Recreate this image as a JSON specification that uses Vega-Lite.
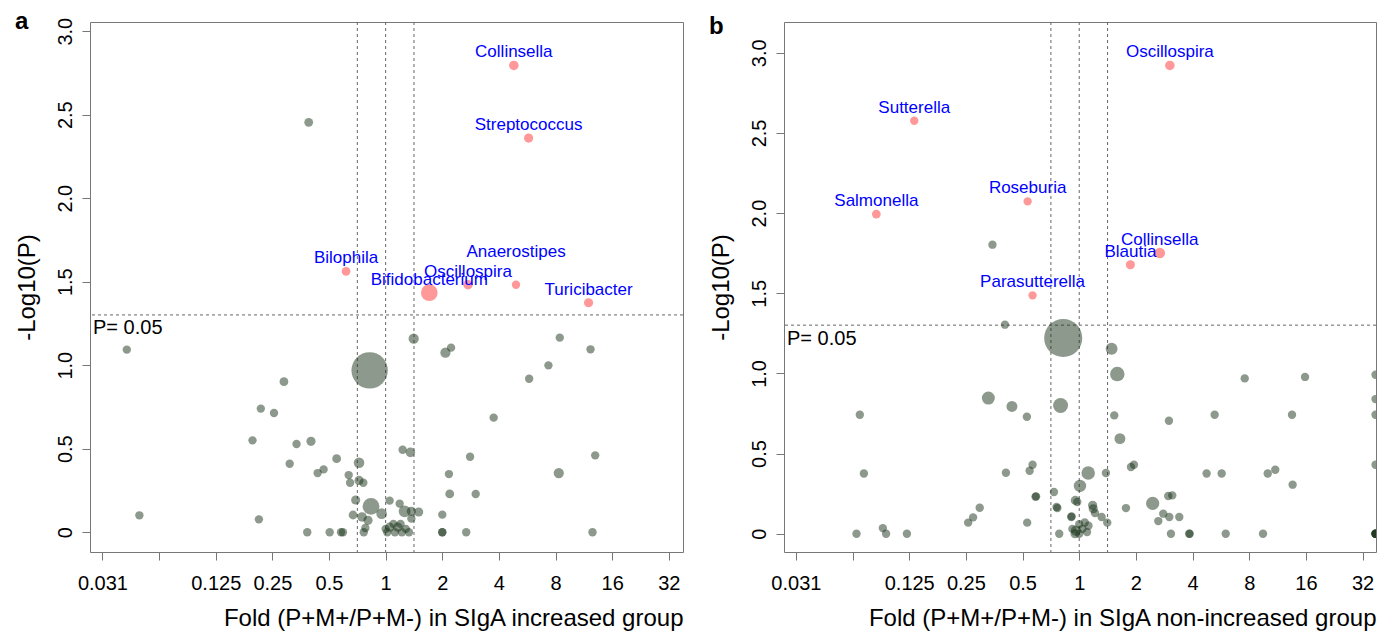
{
  "$schema": "https://vega.github.io/schema/vega-lite/v6.json",
  "background": "white",
  "padding": {"left": 14, "top": 9, "right": 2, "bottom": 0},
  "spacing": 24,
  "config": {
    "font": "Liberation Sans",
    "view": {"stroke": "#777", "strokeWidth": 1},
    "axis": {"grid": false, "domain": false, "tickColor": "#777", "tickSize": 8, "labelColor": "#000", "titleColor": "#000", "labelFontSize": 20, "titleFontSize": 24, "titleFontWeight": "normal", "labelOverlap": false, "labelFlush": false, "labelBound": false, "labelFont": "Liberation Sans", "titleFont": "Liberation Sans"},
    "axisX": {"labelPadding": 13, "titleAnchor": "end", "titlePadding": 13},
    "axisY": {"labelAngle": -90, "labelAlign": "center", "labelBaseline": "bottom", "labelPadding": 7, "titlePadding": 16},
    "title": {"fontSize": 24, "fontWeight": "bold", "anchor": "start", "frame": "bounds", "color": "#000", "offset": -17}
  },
  "datasets": {
    "cutx": [{"fold": 0.7071}, {"fold": 1}, {"fold": 1.4142}],
    "cuty": [{"logp": 1.301}],
    "note": [{"panel": "a", "fold": 0.02683, "logp": 1.301, "text": "P= 0.05"}, {"panel": "b", "fold": 0.02702, "logp": 1.301, "text": "P= 0.05"}],
    "pts": [
      {"panel": "a", "fold": 4.8, "logp": 2.795, "abundance": 1.3, "sig": 1, "genus": "Collinsella"},
      {"panel": "a", "fold": 5.75, "logp": 2.36, "abundance": 1.2, "sig": 1, "genus": "Streptococcus"},
      {"panel": "a", "fold": 0.616, "logp": 1.562, "abundance": 1.1, "sig": 1, "genus": "Bilophila"},
      {"panel": "a", "fold": 1.706, "logp": 1.434, "abundance": 4.0, "sig": 1, "genus": "Bifidobacterium"},
      {"panel": "a", "fold": 2.74, "logp": 1.482, "abundance": 1.3, "sig": 1, "genus": "Oscillospira"},
      {"panel": "a", "fold": 4.93, "logp": 1.482, "abundance": 1.0, "sig": 1, "genus": "Anaerostipes"},
      {"panel": "a", "fold": 11.98, "logp": 1.374, "abundance": 1.2, "sig": 1, "genus": "Turicibacter"},
      {"panel": "a", "fold": 0.39, "logp": 2.454, "abundance": 1.1, "sig": 0, "genus": ""},
      {"panel": "a", "fold": 0.0421, "logp": 1.093, "abundance": 1.0, "sig": 0, "genus": ""},
      {"panel": "a", "fold": 0.0491, "logp": 0.101, "abundance": 1.0, "sig": 0, "genus": ""},
      {"panel": "a", "fold": 0.822, "logp": 0.969, "abundance": 18.9, "sig": 0, "genus": ""},
      {"panel": "a", "fold": 0.288, "logp": 0.901, "abundance": 1.1, "sig": 0, "genus": ""},
      {"panel": "a", "fold": 0.217, "logp": 0.74, "abundance": 1.0, "sig": 0, "genus": ""},
      {"panel": "a", "fold": 0.255, "logp": 0.714, "abundance": 1.0, "sig": 0, "genus": ""},
      {"panel": "a", "fold": 0.196, "logp": 0.55, "abundance": 1.0, "sig": 0, "genus": ""},
      {"panel": "a", "fold": 0.336, "logp": 0.528, "abundance": 1.0, "sig": 0, "genus": ""},
      {"panel": "a", "fold": 0.401, "logp": 0.544, "abundance": 1.2, "sig": 0, "genus": ""},
      {"panel": "a", "fold": 0.309, "logp": 0.41, "abundance": 1.0, "sig": 0, "genus": ""},
      {"panel": "a", "fold": 0.435, "logp": 0.354, "abundance": 1.0, "sig": 0, "genus": ""},
      {"panel": "a", "fold": 0.468, "logp": 0.376, "abundance": 1.0, "sig": 0, "genus": ""},
      {"panel": "a", "fold": 0.549, "logp": 0.44, "abundance": 1.1, "sig": 0, "genus": ""},
      {"panel": "a", "fold": 0.722, "logp": 0.416, "abundance": 1.6, "sig": 0, "genus": ""},
      {"panel": "a", "fold": 0.636, "logp": 0.342, "abundance": 1.0, "sig": 0, "genus": ""},
      {"panel": "a", "fold": 0.647, "logp": 0.296, "abundance": 1.0, "sig": 0, "genus": ""},
      {"panel": "a", "fold": 0.722, "logp": 0.31, "abundance": 1.2, "sig": 0, "genus": ""},
      {"panel": "a", "fold": 0.761, "logp": 0.296, "abundance": 1.0, "sig": 0, "genus": ""},
      {"panel": "a", "fold": 0.693, "logp": 0.193, "abundance": 1.2, "sig": 0, "genus": ""},
      {"panel": "a", "fold": 0.836, "logp": 0.155, "abundance": 4.0, "sig": 0, "genus": ""},
      {"panel": "a", "fold": 0.671, "logp": 0.103, "abundance": 1.1, "sig": 0, "genus": ""},
      {"panel": "a", "fold": 0.749, "logp": 0.091, "abundance": 1.3, "sig": 0, "genus": ""},
      {"panel": "a", "fold": 0.952, "logp": 0.111, "abundance": 1.6, "sig": 0, "genus": ""},
      {"panel": "a", "fold": 0.806, "logp": 0.071, "abundance": 1.2, "sig": 0, "genus": ""},
      {"panel": "a", "fold": 0.78, "logp": 0.025, "abundance": 1.0, "sig": 0, "genus": ""},
      {"panel": "a", "fold": 0.765, "logp": 0.0, "abundance": 1.0, "sig": 0, "genus": ""},
      {"panel": "a", "fold": 0.383, "logp": 0.0, "abundance": 1.0, "sig": 0, "genus": ""},
      {"panel": "a", "fold": 0.504, "logp": 0.0, "abundance": 1.0, "sig": 0, "genus": ""},
      {"panel": "a", "fold": 0.579, "logp": 0.0, "abundance": 1.0, "sig": 0, "genus": ""},
      {"panel": "a", "fold": 0.593, "logp": 0.0, "abundance": 1.0, "sig": 0, "genus": ""},
      {"panel": "a", "fold": 0.212, "logp": 0.077, "abundance": 1.0, "sig": 0, "genus": ""},
      {"panel": "a", "fold": 1.409, "logp": 1.159, "abundance": 1.5, "sig": 0, "genus": ""},
      {"panel": "a", "fold": 2.078, "logp": 1.075, "abundance": 1.5, "sig": 0, "genus": ""},
      {"panel": "a", "fold": 2.227, "logp": 1.105, "abundance": 1.0, "sig": 0, "genus": ""},
      {"panel": "a", "fold": 8.42, "logp": 1.165, "abundance": 1.0, "sig": 0, "genus": ""},
      {"panel": "a", "fold": 12.27, "logp": 1.095, "abundance": 1.0, "sig": 0, "genus": ""},
      {"panel": "a", "fold": 7.33, "logp": 0.999, "abundance": 1.0, "sig": 0, "genus": ""},
      {"panel": "a", "fold": 5.79, "logp": 0.919, "abundance": 1.0, "sig": 0, "genus": ""},
      {"panel": "a", "fold": 3.75, "logp": 0.686, "abundance": 1.0, "sig": 0, "genus": ""},
      {"panel": "a", "fold": 1.231, "logp": 0.494, "abundance": 1.0, "sig": 0, "genus": ""},
      {"panel": "a", "fold": 1.353, "logp": 0.478, "abundance": 1.3, "sig": 0, "genus": ""},
      {"panel": "a", "fold": 2.81, "logp": 0.452, "abundance": 1.0, "sig": 0, "genus": ""},
      {"panel": "a", "fold": 12.99, "logp": 0.46, "abundance": 1.0, "sig": 0, "genus": ""},
      {"panel": "a", "fold": 2.17, "logp": 0.348, "abundance": 1.0, "sig": 0, "genus": ""},
      {"panel": "a", "fold": 8.32, "logp": 0.354, "abundance": 1.5, "sig": 0, "genus": ""},
      {"panel": "a", "fold": 2.19, "logp": 0.229, "abundance": 1.1, "sig": 0, "genus": ""},
      {"panel": "a", "fold": 3.01, "logp": 0.229, "abundance": 1.0, "sig": 0, "genus": ""},
      {"panel": "a", "fold": 2.0, "logp": 0.105, "abundance": 1.0, "sig": 0, "genus": ""},
      {"panel": "a", "fold": 2.0, "logp": 0.0, "abundance": 1.0, "sig": 0, "genus": ""},
      {"panel": "a", "fold": 2.0, "logp": 0.0, "abundance": 1.0, "sig": 0, "genus": ""},
      {"panel": "a", "fold": 2.68, "logp": 0.0, "abundance": 1.0, "sig": 0, "genus": ""},
      {"panel": "a", "fold": 12.57, "logp": 0.0, "abundance": 1.0, "sig": 0, "genus": ""},
      {"panel": "a", "fold": 1.05, "logp": 0.189, "abundance": 1.0, "sig": 0, "genus": ""},
      {"panel": "a", "fold": 1.187, "logp": 0.171, "abundance": 1.0, "sig": 0, "genus": ""},
      {"panel": "a", "fold": 1.262, "logp": 0.125, "abundance": 2.0, "sig": 0, "genus": ""},
      {"panel": "a", "fold": 1.37, "logp": 0.125, "abundance": 1.2, "sig": 0, "genus": ""},
      {"panel": "a", "fold": 1.498, "logp": 0.121, "abundance": 1.2, "sig": 0, "genus": ""},
      {"panel": "a", "fold": 1.37, "logp": 0.081, "abundance": 1.0, "sig": 0, "genus": ""},
      {"panel": "a", "fold": 1.0, "logp": 0.02, "abundance": 1.0, "sig": 0, "genus": ""},
      {"panel": "a", "fold": 1.02, "logp": 0.0, "abundance": 1.0, "sig": 0, "genus": ""},
      {"panel": "a", "fold": 1.05, "logp": 0.03, "abundance": 1.2, "sig": 0, "genus": ""},
      {"panel": "a", "fold": 1.1, "logp": 0.05, "abundance": 1.0, "sig": 0, "genus": ""},
      {"panel": "a", "fold": 1.12, "logp": 0.0, "abundance": 1.0, "sig": 0, "genus": ""},
      {"panel": "a", "fold": 1.16, "logp": 0.03, "abundance": 1.3, "sig": 0, "genus": ""},
      {"panel": "a", "fold": 1.2, "logp": 0.05, "abundance": 1.0, "sig": 0, "genus": ""},
      {"panel": "a", "fold": 1.22, "logp": 0.0, "abundance": 1.0, "sig": 0, "genus": ""},
      {"panel": "a", "fold": 1.28, "logp": 0.02, "abundance": 1.0, "sig": 0, "genus": ""},
      {"panel": "a", "fold": 1.33, "logp": 0.0, "abundance": 1.0, "sig": 0, "genus": ""},

      {"panel": "b", "fold": 3.03, "logp": 2.921, "abundance": 1.3, "sig": 1, "genus": "Oscillospira"},
      {"panel": "b", "fold": 0.1329, "logp": 2.576, "abundance": 1.0, "sig": 1, "genus": "Sutterella"},
      {"panel": "b", "fold": 0.0836, "logp": 1.994, "abundance": 1.1, "sig": 1, "genus": "Salmonella"},
      {"panel": "b", "fold": 0.532, "logp": 2.073, "abundance": 1.0, "sig": 1, "genus": "Roseburia"},
      {"panel": "b", "fold": 2.678, "logp": 1.751, "abundance": 1.6, "sig": 1, "genus": "Collinsella"},
      {"panel": "b", "fold": 1.869, "logp": 1.678, "abundance": 1.2, "sig": 1, "genus": "Blautia"},
      {"panel": "b", "fold": 0.565, "logp": 1.487, "abundance": 1.0, "sig": 1, "genus": "Parasutterella"},
      {"panel": "b", "fold": 0.346, "logp": 1.803, "abundance": 1.0, "sig": 0, "genus": ""},
      {"panel": "b", "fold": 0.403, "logp": 1.304, "abundance": 1.0, "sig": 0, "genus": ""},
      {"panel": "b", "fold": 0.822, "logp": 1.221, "abundance": 20.7, "sig": 0, "genus": ""},
      {"panel": "b", "fold": 0.329, "logp": 0.846, "abundance": 2.4, "sig": 0, "genus": ""},
      {"panel": "b", "fold": 0.439, "logp": 0.794, "abundance": 1.7, "sig": 0, "genus": ""},
      {"panel": "b", "fold": 0.527, "logp": 0.73, "abundance": 1.0, "sig": 0, "genus": ""},
      {"panel": "b", "fold": 0.796, "logp": 0.8, "abundance": 3.2, "sig": 0, "genus": ""},
      {"panel": "b", "fold": 0.0683, "logp": 0.742, "abundance": 1.0, "sig": 0, "genus": ""},
      {"panel": "b", "fold": 0.0718, "logp": 0.376, "abundance": 1.0, "sig": 0, "genus": ""},
      {"panel": "b", "fold": 0.408, "logp": 0.38, "abundance": 1.0, "sig": 0, "genus": ""},
      {"panel": "b", "fold": 0.545, "logp": 0.393, "abundance": 1.0, "sig": 0, "genus": ""},
      {"panel": "b", "fold": 0.565, "logp": 0.43, "abundance": 1.0, "sig": 0, "genus": ""},
      {"panel": "b", "fold": 0.586, "logp": 0.231, "abundance": 1.0, "sig": 0, "genus": ""},
      {"panel": "b", "fold": 0.59, "logp": 0.233, "abundance": 1.0, "sig": 0, "genus": ""},
      {"panel": "b", "fold": 0.734, "logp": 0.26, "abundance": 1.0, "sig": 0, "genus": ""},
      {"panel": "b", "fold": 0.758, "logp": 0.167, "abundance": 1.0, "sig": 0, "genus": ""},
      {"panel": "b", "fold": 0.765, "logp": 0.16, "abundance": 1.0, "sig": 0, "genus": ""},
      {"panel": "b", "fold": 0.296, "logp": 0.162, "abundance": 1.0, "sig": 0, "genus": ""},
      {"panel": "b", "fold": 0.273, "logp": 0.102, "abundance": 1.0, "sig": 0, "genus": ""},
      {"panel": "b", "fold": 0.257, "logp": 0.069, "abundance": 1.0, "sig": 0, "genus": ""},
      {"panel": "b", "fold": 0.529, "logp": 0.069, "abundance": 1.0, "sig": 0, "genus": ""},
      {"panel": "b", "fold": 0.0656, "logp": 0.0, "abundance": 1.0, "sig": 0, "genus": ""},
      {"panel": "b", "fold": 0.0905, "logp": 0.035, "abundance": 1.0, "sig": 0, "genus": ""},
      {"panel": "b", "fold": 0.0942, "logp": 0.0, "abundance": 1.0, "sig": 0, "genus": ""},
      {"panel": "b", "fold": 0.1215, "logp": 0.0, "abundance": 1.0, "sig": 0, "genus": ""},
      {"panel": "b", "fold": 0.783, "logp": 0.0, "abundance": 1.0, "sig": 0, "genus": ""},
      {"panel": "b", "fold": 0.953, "logp": 0.208, "abundance": 1.2, "sig": 0, "genus": ""},
      {"panel": "b", "fold": 0.976, "logp": 0.198, "abundance": 1.0, "sig": 0, "genus": ""},
      {"panel": "b", "fold": 1.009, "logp": 0.298, "abundance": 2.2, "sig": 0, "genus": ""},
      {"panel": "b", "fold": 0.907, "logp": 0.104, "abundance": 1.0, "sig": 0, "genus": ""},
      {"panel": "b", "fold": 1.116, "logp": 0.379, "abundance": 2.6, "sig": 0, "genus": ""},
      {"panel": "b", "fold": 1.386, "logp": 0.379, "abundance": 1.0, "sig": 0, "genus": ""},
      {"panel": "b", "fold": 1.178, "logp": 0.177, "abundance": 1.2, "sig": 0, "genus": ""},
      {"panel": "b", "fold": 1.187, "logp": 0.156, "abundance": 1.2, "sig": 0, "genus": ""},
      {"panel": "b", "fold": 1.212, "logp": 0.129, "abundance": 1.0, "sig": 0, "genus": ""},
      {"panel": "b", "fold": 1.315, "logp": 0.104, "abundance": 1.0, "sig": 0, "genus": ""},
      {"panel": "b", "fold": 1.409, "logp": 0.069, "abundance": 1.0, "sig": 0, "genus": ""},
      {"panel": "b", "fold": 0.911, "logp": 0.108, "abundance": 1.0, "sig": 0, "genus": ""},
      {"panel": "b", "fold": 0.92, "logp": 0.03, "abundance": 1.0, "sig": 0, "genus": ""},
      {"panel": "b", "fold": 0.96, "logp": 0.02, "abundance": 1.5, "sig": 0, "genus": ""},
      {"panel": "b", "fold": 1.0, "logp": 0.06, "abundance": 1.0, "sig": 0, "genus": ""},
      {"panel": "b", "fold": 1.04, "logp": 0.03, "abundance": 1.0, "sig": 0, "genus": ""},
      {"panel": "b", "fold": 1.07, "logp": 0.07, "abundance": 1.0, "sig": 0, "genus": ""},
      {"panel": "b", "fold": 1.1, "logp": 0.01, "abundance": 1.0, "sig": 0, "genus": ""},
      {"panel": "b", "fold": 1.12, "logp": 0.05, "abundance": 1.0, "sig": 0, "genus": ""},
      {"panel": "b", "fold": 1.0, "logp": 0.0, "abundance": 1.0, "sig": 0, "genus": ""},
      {"panel": "b", "fold": 0.95, "logp": 0.0, "abundance": 1.2, "sig": 0, "genus": ""},
      {"panel": "b", "fold": 1.771, "logp": 0.16, "abundance": 1.0, "sig": 0, "genus": ""},
      {"panel": "b", "fold": 1.883, "logp": 0.416, "abundance": 1.0, "sig": 0, "genus": ""},
      {"panel": "b", "fold": 1.953, "logp": 0.43, "abundance": 1.0, "sig": 0, "genus": ""},
      {"panel": "b", "fold": 1.486, "logp": 1.154, "abundance": 2.0, "sig": 0, "genus": ""},
      {"panel": "b", "fold": 1.593, "logp": 0.996, "abundance": 3.0, "sig": 0, "genus": ""},
      {"panel": "b", "fold": 1.535, "logp": 0.738, "abundance": 1.0, "sig": 0, "genus": ""},
      {"panel": "b", "fold": 1.645, "logp": 0.593, "abundance": 1.7, "sig": 0, "genus": ""},
      {"panel": "b", "fold": 2.996, "logp": 0.705, "abundance": 1.0, "sig": 0, "genus": ""},
      {"panel": "b", "fold": 7.57, "logp": 0.969, "abundance": 1.0, "sig": 0, "genus": ""},
      {"panel": "b", "fold": 15.83, "logp": 0.978, "abundance": 1.0, "sig": 0, "genus": ""},
      {"panel": "b", "fold": 5.24, "logp": 0.742, "abundance": 1.0, "sig": 0, "genus": ""},
      {"panel": "b", "fold": 13.5, "logp": 0.742, "abundance": 1.0, "sig": 0, "genus": ""},
      {"panel": "b", "fold": 37.5, "logp": 0.992, "abundance": 1.0, "sig": 0, "genus": ""},
      {"panel": "b", "fold": 37.5, "logp": 0.84, "abundance": 1.0, "sig": 0, "genus": ""},
      {"panel": "b", "fold": 37.5, "logp": 0.742, "abundance": 1.0, "sig": 0, "genus": ""},
      {"panel": "b", "fold": 37.5, "logp": 0.43, "abundance": 1.0, "sig": 0, "genus": ""},
      {"panel": "b", "fold": 37.5, "logp": 0.0, "abundance": 1.0, "sig": 0, "genus": ""},
      {"panel": "b", "fold": 37.5, "logp": 0.0, "abundance": 1.0, "sig": 0, "genus": ""},
      {"panel": "b", "fold": 37.5, "logp": 0.0, "abundance": 1.0, "sig": 0, "genus": ""},
      {"panel": "b", "fold": 37.5, "logp": 0.0, "abundance": 1.0, "sig": 0, "genus": ""},
      {"panel": "b", "fold": 37.5, "logp": 0.0, "abundance": 1.0, "sig": 0, "genus": ""},
      {"panel": "b", "fold": 4.75, "logp": 0.376, "abundance": 1.0, "sig": 0, "genus": ""},
      {"panel": "b", "fold": 5.71, "logp": 0.376, "abundance": 1.0, "sig": 0, "genus": ""},
      {"panel": "b", "fold": 10.03, "logp": 0.376, "abundance": 1.0, "sig": 0, "genus": ""},
      {"panel": "b", "fold": 11.0, "logp": 0.399, "abundance": 1.0, "sig": 0, "genus": ""},
      {"panel": "b", "fold": 13.6, "logp": 0.306, "abundance": 1.0, "sig": 0, "genus": ""},
      {"panel": "b", "fold": 2.97, "logp": 0.235, "abundance": 1.0, "sig": 0, "genus": ""},
      {"panel": "b", "fold": 3.12, "logp": 0.239, "abundance": 1.0, "sig": 0, "genus": ""},
      {"panel": "b", "fold": 2.455, "logp": 0.189, "abundance": 2.5, "sig": 0, "genus": ""},
      {"panel": "b", "fold": 2.795, "logp": 0.125, "abundance": 1.0, "sig": 0, "genus": ""},
      {"panel": "b", "fold": 3.01, "logp": 0.104, "abundance": 1.0, "sig": 0, "genus": ""},
      {"panel": "b", "fold": 3.4, "logp": 0.104, "abundance": 1.0, "sig": 0, "genus": ""},
      {"panel": "b", "fold": 2.63, "logp": 0.079, "abundance": 1.0, "sig": 0, "genus": ""},
      {"panel": "b", "fold": 3.07, "logp": 0.0, "abundance": 1.0, "sig": 0, "genus": ""},
      {"panel": "b", "fold": 3.84, "logp": 0.0, "abundance": 1.0, "sig": 0, "genus": ""},
      {"panel": "b", "fold": 3.86, "logp": 0.0, "abundance": 1.0, "sig": 0, "genus": ""},
      {"panel": "b", "fold": 6.0, "logp": 0.0, "abundance": 1.0, "sig": 0, "genus": ""},
      {"panel": "b", "fold": 9.47, "logp": 0.0, "abundance": 1.0, "sig": 0, "genus": ""}
    ]
  },
  "hconcat": [
    {
      "title": {"text": "a"},
      "width": 593,
      "height": 530,
      "layer": [
        {"data": {"name": "cutx"}, "mark": {"type": "rule", "strokeDash": [3, 3], "color": "#666", "strokeWidth": 1},
         "encoding": {"x": {"field": "fold", "type": "quantitative", "title": "Fold (P+M+/P+M-) in SIgA increased group", "scale": {"type": "log", "base": 2, "domain": [0.02683, 38.05], "nice": false}, "axis": {"values": [0.03125, 0.0625, 0.125, 0.25, 0.5, 1, 2, 4, 8, 16, 32], "labelExpr": "datum.value < 0.04 ? '0.031' : (datum.value < 0.1 ? '' : (datum.value < 1 ? '' + datum.value : format(datum.value, 'd')))"}}}},
        {"data": {"name": "cuty"}, "mark": {"type": "rule", "strokeDash": [3, 3], "color": "#666", "strokeWidth": 1},
         "encoding": {"y": {"field": "logp", "type": "quantitative", "title": "-Log10(P)", "scale": {"domain": [-0.1186, 3.055], "nice": false, "zero": false}, "axis": {"values": [0, 0.5, 1, 1.5, 2, 2.5, 3], "labelExpr": "datum.value == 0 ? '0' : format(datum.value, '.1f')"}}}},
        {"data": {"name": "pts"}, "transform": [{"filter": "datum.panel == 'a' && datum.sig == 0"}],
         "mark": {"type": "circle", "color": "#1a331a", "opacity": 0.5, "clip": true},
         "encoding": {"x": {"field": "fold", "type": "quantitative", "title": "Fold (P+M+/P+M-) in SIgA increased group"}, "y": {"field": "logp", "type": "quantitative", "title": "-Log10(P)"}, "size": {"field": "abundance", "type": "quantitative", "scale": {"domain": [0, 20], "range": [0, 1400], "zero": true}, "legend": null}}},
        {"data": {"name": "pts"}, "transform": [{"filter": "datum.panel == 'a' && datum.sig == 1"}],
         "mark": {"type": "circle", "color": "#ff0000", "opacity": 0.4, "clip": true},
         "encoding": {"x": {"field": "fold", "type": "quantitative", "title": "Fold (P+M+/P+M-) in SIgA increased group"}, "y": {"field": "logp", "type": "quantitative", "title": "-Log10(P)"}, "size": {"field": "abundance", "type": "quantitative", "scale": {"domain": [0, 20], "range": [0, 1400], "zero": true}, "legend": null}}},
        {"data": {"name": "pts"}, "transform": [{"filter": "datum.panel == 'a' && datum.sig == 1 && datum.genus != 'Anaerostipes'"}],
         "mark": {"type": "text", "color": "#0000ff", "font": "Liberation Sans", "fontSize": 17, "baseline": "alphabetic", "align": "center", "dy": -8},
         "encoding": {"x": {"field": "fold", "type": "quantitative", "title": "Fold (P+M+/P+M-) in SIgA increased group"}, "y": {"field": "logp", "type": "quantitative", "title": "-Log10(P)"}, "text": {"field": "genus"}}},
        {"data": {"name": "pts"}, "transform": [{"filter": "datum.panel == 'a' && datum.genus == 'Anaerostipes'"}],
         "mark": {"type": "text", "color": "#0000ff", "font": "Liberation Sans", "fontSize": 17, "baseline": "alphabetic", "align": "center", "dy": -28},
         "encoding": {"x": {"field": "fold", "type": "quantitative", "title": "Fold (P+M+/P+M-) in SIgA increased group"}, "y": {"field": "logp", "type": "quantitative", "title": "-Log10(P)"}, "text": {"field": "genus"}}},
        {"data": {"name": "note"}, "transform": [{"filter": "datum.panel == 'a'"}],
         "mark": {"type": "text", "color": "#000", "font": "Liberation Sans", "fontSize": 20, "baseline": "top", "align": "left", "dx": 3, "dy": 3},
         "encoding": {"x": {"field": "fold", "type": "quantitative", "title": "Fold (P+M+/P+M-) in SIgA increased group"}, "y": {"field": "logp", "type": "quantitative", "title": "-Log10(P)"}, "text": {"field": "text"}}}
      ]
    },
    {
      "title": {"text": "b"},
      "width": 592,
      "height": 530,
      "layer": [
        {"data": {"name": "cutx"}, "mark": {"type": "rule", "strokeDash": [3, 3], "color": "#666", "strokeWidth": 1},
         "encoding": {"x": {"field": "fold", "type": "quantitative", "title": "Fold (P+M+/P+M-) in SIgA non-increased group", "scale": {"type": "log", "base": 2, "domain": [0.02702, 37.71], "nice": false}, "axis": {"values": [0.03125, 0.0625, 0.125, 0.25, 0.5, 1, 2, 4, 8, 16, 32], "labelExpr": "datum.value < 0.04 ? '0.031' : (datum.value < 0.1 ? '' : (datum.value < 1 ? '' + datum.value : format(datum.value, 'd')))"}}}},
        {"data": {"name": "cuty"}, "mark": {"type": "rule", "strokeDash": [3, 3], "color": "#666", "strokeWidth": 1},
         "encoding": {"y": {"field": "logp", "type": "quantitative", "title": "-Log10(P)", "scale": {"domain": [-0.114, 3.192], "nice": false, "zero": false}, "axis": {"values": [0, 0.5, 1, 1.5, 2, 2.5, 3], "labelExpr": "datum.value == 0 ? '0' : format(datum.value, '.1f')"}}}},
        {"data": {"name": "pts"}, "transform": [{"filter": "datum.panel == 'b' && datum.sig == 0"}],
         "mark": {"type": "circle", "color": "#1a331a", "opacity": 0.5, "clip": true},
         "encoding": {"x": {"field": "fold", "type": "quantitative", "title": "Fold (P+M+/P+M-) in SIgA non-increased group"}, "y": {"field": "logp", "type": "quantitative", "title": "-Log10(P)"}, "size": {"field": "abundance", "type": "quantitative", "scale": {"domain": [0, 20], "range": [0, 1400], "zero": true}, "legend": null}}},
        {"data": {"name": "pts"}, "transform": [{"filter": "datum.panel == 'b' && datum.sig == 1"}],
         "mark": {"type": "circle", "color": "#ff0000", "opacity": 0.4, "clip": true},
         "encoding": {"x": {"field": "fold", "type": "quantitative", "title": "Fold (P+M+/P+M-) in SIgA non-increased group"}, "y": {"field": "logp", "type": "quantitative", "title": "-Log10(P)"}, "size": {"field": "abundance", "type": "quantitative", "scale": {"domain": [0, 20], "range": [0, 1400], "zero": true}, "legend": null}}},
        {"data": {"name": "pts"}, "transform": [{"filter": "datum.panel == 'b' && datum.sig == 1"}],
         "mark": {"type": "text", "color": "#0000ff", "font": "Liberation Sans", "fontSize": 17, "baseline": "alphabetic", "align": "center", "dy": -8},
         "encoding": {"x": {"field": "fold", "type": "quantitative", "title": "Fold (P+M+/P+M-) in SIgA non-increased group"}, "y": {"field": "logp", "type": "quantitative", "title": "-Log10(P)"}, "text": {"field": "genus"}}},
        {"data": {"name": "note"}, "transform": [{"filter": "datum.panel == 'b'"}],
         "mark": {"type": "text", "color": "#000", "font": "Liberation Sans", "fontSize": 20, "baseline": "top", "align": "left", "dx": 3, "dy": 4},
         "encoding": {"x": {"field": "fold", "type": "quantitative", "title": "Fold (P+M+/P+M-) in SIgA non-increased group"}, "y": {"field": "logp", "type": "quantitative", "title": "-Log10(P)"}, "text": {"field": "text"}}}
      ]
    }
  ]
}
